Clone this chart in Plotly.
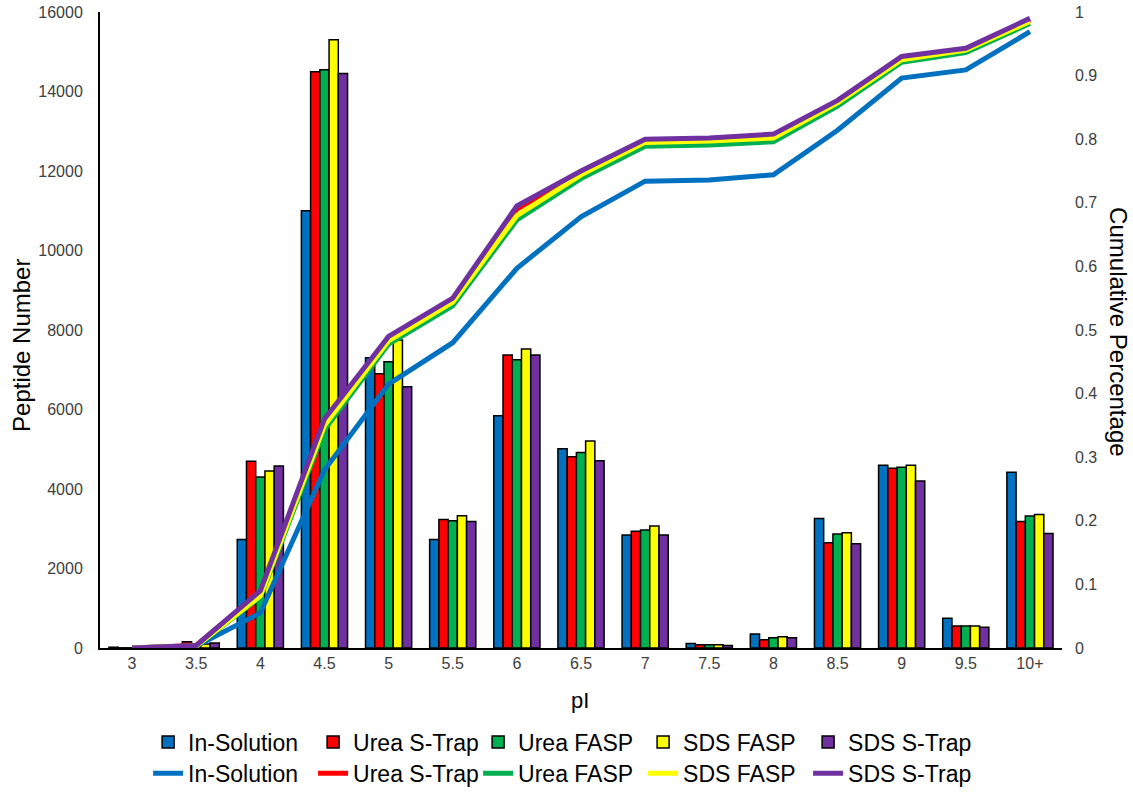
import plotly.graph_objects as go

# pI bins
categories = ["3", "3.5", "4", "4.5", "5", "5.5", "6", "6.5", "7", "7.5", "8", "8.5", "9", "9.5", "10+"]

# Peptide counts per pI bin
in_solution = [20, 60, 2730, 11000, 7300, 2730, 5840, 5010, 2840, 115, 350, 3260, 4600, 750, 4420]
urea_strap = [5, 160, 4700, 14500, 6900, 3230, 7370, 4810, 2940, 80, 210, 2650, 4520, 556, 3180]
urea_fasp = [5, 100, 4300, 14550, 7200, 3200, 7250, 4920, 2970, 80, 260, 2870, 4550, 556, 3320]
sds_fasp = [5, 100, 4450, 15300, 7750, 3330, 7520, 5210, 3070, 80, 285, 2900, 4600, 556, 3360]
sds_strap = [5, 125, 4580, 14450, 6570, 3180, 7370, 4710, 2840, 60, 260, 2620, 4200, 520, 2880]

# Cumulative fraction of peptides per method
cum_in_solution = [0.0, 0.003, 0.055, 0.28, 0.415, 0.48, 0.597, 0.678, 0.734, 0.736, 0.744, 0.814, 0.896, 0.909, 0.969]
cum_urea_strap = [0.0, 0.004, 0.088, 0.355, 0.487, 0.547, 0.69, 0.748, 0.798, 0.8, 0.806, 0.859, 0.928, 0.941, 0.988]
cum_urea_fasp = [0.0, 0.003, 0.08, 0.343, 0.478, 0.538, 0.673, 0.738, 0.789, 0.791, 0.796, 0.852, 0.921, 0.936, 0.982]
cum_sds_fasp = [0.0, 0.003, 0.082, 0.35, 0.483, 0.544, 0.68, 0.744, 0.795, 0.797, 0.802, 0.857, 0.925, 0.94, 0.985]
cum_sds_strap = [0.0, 0.004, 0.09, 0.36, 0.49, 0.55, 0.695, 0.75, 0.8, 0.802, 0.808, 0.861, 0.93, 0.943, 0.99]

names = ["In-Solution", "Urea S-Trap", "Urea FASP", "SDS FASP", "SDS S-Trap"]
colors = ["#0070C0", "#FF0000", "#00B050", "#FFFF00", "#7030A0"]
bar_series = [in_solution, urea_strap, urea_fasp, sds_fasp, sds_strap]
line_series = [cum_in_solution, cum_urea_strap, cum_urea_fasp, cum_sds_fasp, cum_sds_strap]

fig = go.Figure()

for name, color, vals in zip(names, colors, bar_series):
    fig.add_trace(go.Bar(
        x=categories, y=vals, name=name,
        marker=dict(color=color, line=dict(color="black", width=1.5)),
        legend="legend",
    ))

for name, color, vals in zip(names, colors, line_series):
    fig.add_trace(go.Scatter(
        x=categories, y=vals, name=name, mode="lines",
        line=dict(color=color, width=5),
        yaxis="y2", legend="legend2",
    ))

font_family = "Arial, Liberation Sans, sans-serif"
tick_font = dict(size=16, color="#404040")
legend_common = dict(
    orientation="h", x=0.05, xanchor="left", yanchor="middle",
    font=dict(size=23), entrywidth=120, entrywidthmode="pixels",
    itemwidth=30, traceorder="normal", tracegroupgap=0,
    bgcolor="rgba(0,0,0,0)",
)

fig.update_layout(
    width=1133, height=793,
    margin=dict(l=100, r=71, t=12, b=145, autoexpand=False),
    paper_bgcolor="white", plot_bgcolor="white",
    font=dict(family=font_family, size=16, color="black"),
    barmode="group", bargap=0.28, bargroupgap=0.0,
    xaxis=dict(
        type="category", showline=True, linecolor="black", linewidth=2,
        ticks="", showgrid=False, tickfont=tick_font, automargin=False,
    ),
    yaxis=dict(
        range=[0, 16000], dtick=2000, tickformat="d",
        showline=True, linecolor="black", linewidth=2,
        ticks="", showgrid=False, zeroline=False, tickfont=tick_font,
        ticklabelstandoff=12, automargin=False,
    ),
    yaxis2=dict(
        range=[0, 1], dtick=0.1, overlaying="y", side="right",
        showline=False, ticks="", showgrid=False, zeroline=False,
        tickfont=tick_font, ticklabelstandoff=12, automargin=False,
    ),
    legend=dict(legend_common, y=-0.148),
    legend2=dict(legend_common, y=-0.197),
    annotations=[
        dict(text="Peptide Number", textangle=-90,
             xref="paper", yref="paper", x=-0.081, y=0.475,
             xanchor="center", yanchor="middle", showarrow=False,
             font=dict(size=24)),
        dict(text="Cumulative Percentage", textangle=90,
             xref="paper", yref="paper", x=1.058, y=0.497,
             xanchor="center", yanchor="middle", showarrow=False,
             font=dict(size=24)),
        dict(text="pI", xref="paper", yref="paper", x=0.499, y=-0.082,
             xanchor="center", yanchor="middle", showarrow=False,
             font=dict(size=22)),
    ],
)

fig.write_html("out.html")
